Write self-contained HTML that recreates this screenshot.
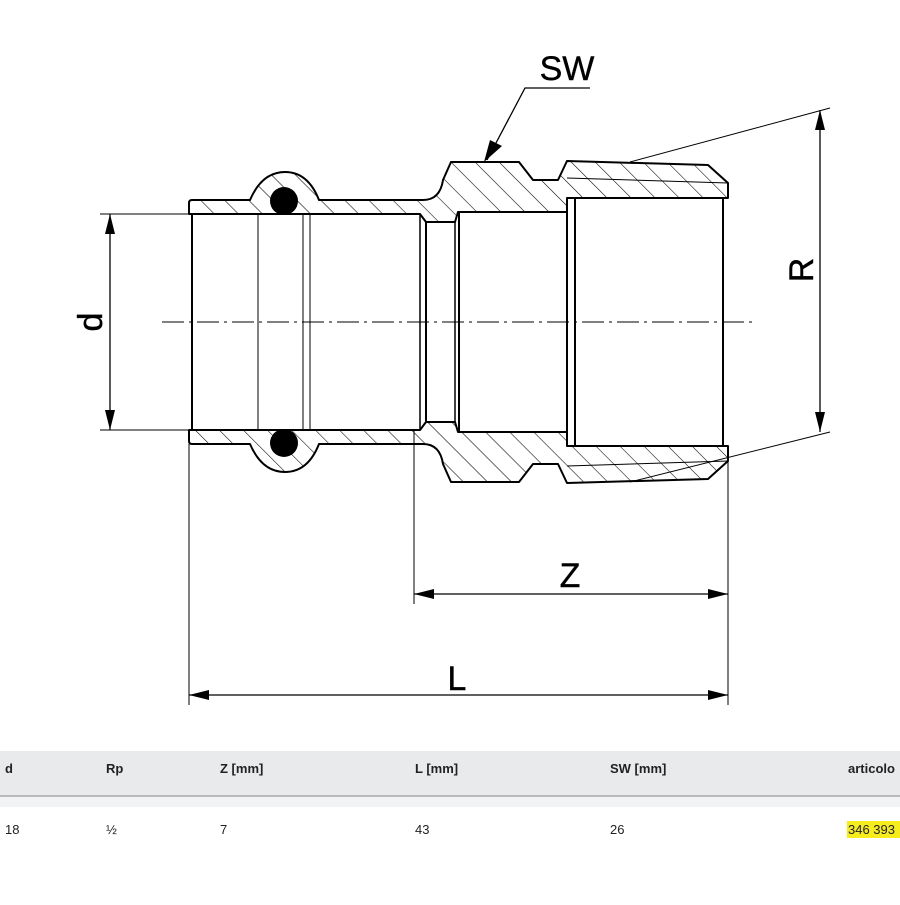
<!DOCTYPE html>
<html><head><meta charset="utf-8"><style>
body{margin:0;background:#fff;width:900px;height:900px;overflow:hidden;font-family:"Liberation Sans",sans-serif}
</style></head><body>
<svg width="900" height="900" viewBox="0 0 900 900" xmlns="http://www.w3.org/2000/svg">
<defs>
<pattern id="h" patternUnits="userSpaceOnUse" width="17" height="17" patternTransform="rotate(-45)">
<rect width="17" height="17" fill="#fff"/><line x1="0" y1="0" x2="0" y2="17" stroke="#000" stroke-width="1.1"/>
</pattern>
<pattern id="h2" patternUnits="userSpaceOnUse" width="17" height="17" patternTransform="rotate(45)">
<rect width="17" height="17" fill="#fff"/><line x1="0" y1="0" x2="0" y2="17" stroke="#000" stroke-width="1.1"/>
</pattern>
<path id="wall" d="M189,203 Q189,200 192,200 L250,200 Q262,172 285,172 Q308,172 319,200 L423,200 Q440,200 443,180 L451,162 L519,162 L533,180 L558,180 L567,161 L708,165 L728,183 L728,198 L723,198 L567,198 L567,212 L458,212 L455,222 L426,222 L420,214 L189,214 Z" stroke="#000" stroke-width="2" stroke-linejoin="round"/>
<g id="extra">
<line x1="567" y1="178" x2="728" y2="183" stroke="#000" stroke-width="1"/>
<circle cx="284" cy="201" r="14" fill="#000"/>
</g>
<marker id="a" viewBox="0 0 20 10" refX="20" refY="5" markerWidth="20" markerHeight="10" markerUnits="userSpaceOnUse" orient="auto-start-reverse"><path d="M0,0 L20,5 L0,10 Z" fill="#000"/></marker>
</defs>
<use href="#wall" fill="url(#h)"/>
<use href="#extra"/>
<g transform="translate(0,644) scale(1,-1)">
<use href="#wall" fill="url(#h2)"/>
<use href="#extra"/>
</g>
<g stroke="#000" fill="none">
<line x1="192" y1="214" x2="192" y2="430" stroke-width="2"/>
<line x1="258" y1="214" x2="258" y2="430"/>
<line x1="303" y1="214" x2="303" y2="430"/>
<line x1="310" y1="214" x2="310" y2="430"/>
<line x1="420" y1="214" x2="420" y2="430" stroke-width="1.5"/>
<line x1="426" y1="222" x2="426" y2="422" stroke-width="2"/>
<line x1="455" y1="222" x2="455" y2="422" stroke-width="1.5"/>
<line x1="459" y1="212" x2="459" y2="432" stroke-width="2"/>
<line x1="567" y1="198" x2="567" y2="446" stroke-width="2"/>
<line x1="575" y1="198" x2="575" y2="446" stroke-width="2"/>
<line x1="723" y1="198" x2="723" y2="446" stroke-width="2"/>
<line x1="162" y1="322" x2="755" y2="322" stroke-dasharray="22,5,3,5"/>
<line x1="100" y1="214" x2="189" y2="214"/>
<line x1="100" y1="430" x2="189" y2="430"/>
<line x1="110" y1="214" x2="110" y2="430" stroke-width="1.3" marker-start="url(#a)" marker-end="url(#a)"/>
<line x1="630" y1="162" x2="830" y2="108"/>
<line x1="630" y1="482" x2="830" y2="432"/>
<line x1="820" y1="110" x2="820" y2="432" stroke-width="1.3" marker-start="url(#a)" marker-end="url(#a)"/>
<polyline points="487,160 525,88 590,88" stroke-width="1.3"/>
<line x1="414" y1="430" x2="414" y2="604"/>
<line x1="728" y1="460" x2="728" y2="705"/>
<line x1="189" y1="444" x2="189" y2="705"/>
<line x1="414" y1="594" x2="728" y2="594" stroke-width="1.3" marker-start="url(#a)" marker-end="url(#a)"/>
<line x1="189" y1="695" x2="728" y2="695" stroke-width="1.3" marker-start="url(#a)" marker-end="url(#a)"/>
</g>
<path d="M484,162 L490,140 L502,146 Z" fill="#000"/>
<g font-family="Liberation Sans, sans-serif" font-size="34" fill="#000" text-anchor="middle" stroke="#000" stroke-width="0.4">
<text x="567" y="80">SW</text>
<text x="570" y="587">Z</text>
<text x="457" y="690">L</text>
<text transform="translate(102,322) rotate(-90)">d</text>
<text transform="translate(813,270) rotate(-90)">R</text>
</g>
<rect x="0" y="751" width="900" height="44" fill="#e8eaeb"/>
<rect x="0" y="795" width="900" height="2" fill="#b8babb"/>
<rect x="0" y="797" width="900" height="10" fill="#f2f3f4"/>
<rect x="847" y="821" width="53" height="17" fill="#f7ec1c"/>
<g font-size="13" fill="#222">
<g font-weight="bold">
<text x="5" y="773">d</text><text x="106" y="773">Rp</text><text x="220" y="773">Z [mm]</text>
<text x="415" y="773">L [mm]</text><text x="610" y="773">SW [mm]</text><text x="848" y="773">articolo</text>
</g>
<text x="5" y="834">18</text><text x="106" y="834">½</text><text x="220" y="834">7</text>
<text x="415" y="834">43</text><text x="610" y="834">26</text><text x="848" y="834">346 393</text>
</g>
</svg>
</body></html>
